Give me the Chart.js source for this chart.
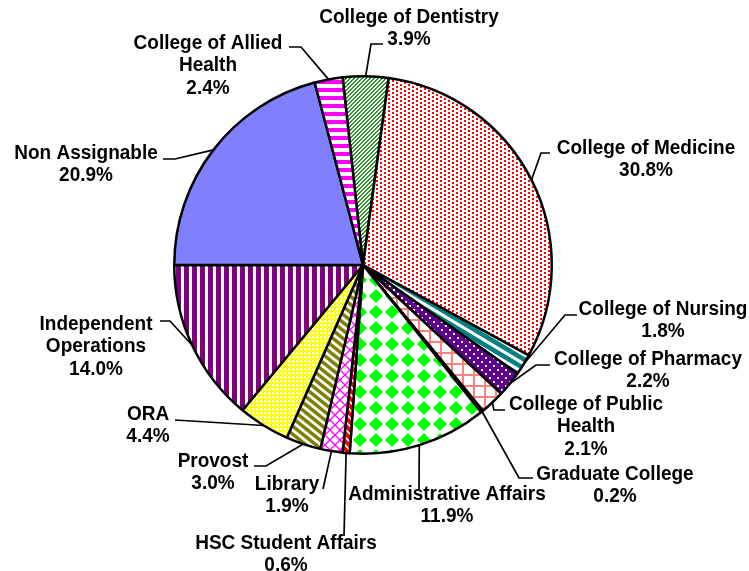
<!DOCTYPE html>
<html>
<head>
<meta charset="utf-8">
<script src="https://cdn.jsdelivr.net/npm/chart.js@4"></script>
<style>
  body { margin: 0; background: #fff; }
</style>
</head>
<body>
<canvas id="grafico-circular" width="749" height="571"></canvas>
<script>
// Budget share per unit, clockwise from the top
const categorias = [
    "College of Dentistry", "College of Medicine", "College of Nursing",
    "College of Pharmacy", "College of Public Health", "Graduate College",
    "Administrative Affairs", "HSC Student Affairs", "Library", "Provost",
    "ORA", "Independent Operations", "Non Assignable", "College of Allied Health"
];
const porcentajes = [3.9, 30.8, 1.8, 2.2, 2.1, 0.2, 11.9, 0.6, 1.9, 3.0, 4.4, 14.0, 20.9, 2.4];

// Where each label sits and how its leader line bends (same order as categorias)
const etiquetas = [
    { x: 409, y: 17,  corte: 0, ruta: [[371, 44], [383, 44]] },
    { x: 646, y: 148, corte: 0, ruta: [[541, 153], [550, 153]] },
    { x: 663, y: 309, corte: 0, ruta: [[565, 315], [577, 315]] },
    { x: 648, y: 359, corte: 0, ruta: [[536, 365], [550, 365]] },
    { x: 586, y: 404, corte: 3, ruta: [[494, 410], [505, 410]] },
    { x: 615, y: 474, corte: 0, ruta: [[519, 478], [533, 478]] },
    { x: 447, y: 494, corte: 0, ruta: [[419, 489]] },
    { x: 286, y: 543, corte: 0, ruta: [[344, 536]] },
    { x: 287, y: 484, corte: 0, ruta: [[323, 489]] },
    { x: 213, y: 461, corte: 0, ruta: [[266, 466], [254, 466]] },
    { x: 148, y: 414, corte: 0, ruta: [[175, 420]] },
    { x: 96,  y: 324, corte: 1, ruta: [[170, 321], [160, 321]] },
    { x: 86,  y: 153, corte: 0, ruta: [[175, 159], [163, 159]] },
    { x: 208, y: 43,  corte: 3, ruta: [[301, 47], [289, 47]] }
];

function mosaico(w, h, pintar) {
    const c = document.createElement("canvas");
    c.width = w;
    c.height = h;
    const g = c.getContext("2d");
    g.fillStyle = "#fff";
    g.fillRect(0, 0, w, h);
    pintar(g, w, h);
    return g.createPattern(c, "repeat");
}

// slanted stripes: direction (w, h), h < 0 goes up to the right
function rayas(color, w, h, grosor) {
    const alto = Math.abs(h);
    return mosaico(w, alto, function (g) {
        g.strokeStyle = color;
        g.lineWidth = grosor;
        for (let k = -1; k <= 1; k++) {
            const off = k * alto;
            g.beginPath();
            g.moveTo(-w, -h + off);
            g.lineTo(2 * w, 2 * h + off);
            g.stroke();
        }
    });
}

function puntos(color, fondo, w, h, lista) {
    return mosaico(w, h, function (g) {
        g.fillStyle = fondo;
        g.fillRect(0, 0, w, h);
        g.fillStyle = color;
        lista.forEach(p => g.fillRect(p[0], p[1], 2, 2));
    });
}

const rellenos = [
    // thin "/" stripes, two pixels per row
    mosaico(4, 4, function (g) {
        g.fillStyle = "#2f962f";
        for (let y = 0; y < 4; y++) {
            g.fillRect((3 - y + 4) % 4, y, 1, 1);
            g.fillRect((4 - y) % 4, y, 1, 1);
        }
    }),
    puntos("#ff0000", "#fff", 8, 4, [[0, 0], [4, 2]]),
    rayas("#008080", 15, 9, 4.6),
    puntos("#fff", "#600090", 8, 8, [[1, 1], [5, 5]]),
    mosaico(11, 11, function (g) {
        g.fillStyle = "#ff8080";
        g.fillRect(0, 0, 11, 2);
        g.fillRect(0, 0, 2, 11);
    }),
    "#000000",
    mosaico(16, 16, function (g) {
        g.fillStyle = "#00ff00";
        g.beginPath();
        g.moveTo(8, 1);
        g.lineTo(15, 8);
        g.lineTo(8, 15);
        g.lineTo(1, 8);
        g.closePath();
        g.fill();
    }),
    rayas("#ff0000", 8, 8, 4),
    mosaico(10, 10, function (g) {
        g.strokeStyle = "#ff00ff";
        g.lineWidth = 1.3;
        g.beginPath();
        g.moveTo(0, 0); g.lineTo(10, 10);
        g.moveTo(10, 0); g.lineTo(0, 10);
        g.stroke();
    }),
    rayas("#808000", 10, 8, 3.4),
    mosaico(4, 4, function (g) {
        g.fillStyle = "#ffff00";
        g.fillRect(0, 0, 4, 4);
        g.fillStyle = "#fff";
        g.fillRect(0, 0, 2, 2);
        g.fillRect(2, 2, 1, 1);
    }),
    mosaico(8, 1, function (g) {
        g.fillStyle = "#800080";
        g.fillRect(0, 0, 5, 1);
    }),
    "#8080ff",
    mosaico(8, 8, function (g) {
        g.fillStyle = "#ff00ff";
        g.fillRect(0, 0, 8, 4);
    })
];

// labels with leader lines, drawn after the pie
const etiquetasPlugin = {
    id: "etiquetas",
    afterDraw(chart) {
        const ctx = chart.ctx;
        const meta = chart.getDatasetMeta(0);
        ctx.save();
        ctx.strokeStyle = "#000";
        ctx.lineWidth = 1.7;
        ctx.fillStyle = "#000";
        ctx.font = "bold 19px 'Liberation Sans', Arial, sans-serif";
        ctx.textAlign = "center";
        ctx.textBaseline = "middle";
        meta.data.forEach(function (arco, i) {
            const p = arco.getProps(["x", "y", "startAngle", "endAngle", "outerRadius"], true);
            const medio = (p.startAngle + p.endAngle) / 2;
            const et = etiquetas[i];
            ctx.beginPath();
            ctx.moveTo(p.x + Math.cos(medio) * p.outerRadius, p.y + Math.sin(medio) * p.outerRadius);
            et.ruta.forEach(pt => ctx.lineTo(pt[0], pt[1]));
            ctx.stroke();

            const palabras = categorias[i].split(" ");
            const lineas = et.corte > 0
                ? [palabras.slice(0, et.corte).join(" "), palabras.slice(et.corte).join(" ")]
                : [categorias[i]];
            lineas.push(porcentajes[i].toFixed(1) + "%");
            lineas.forEach(function (t, j) {
                // text is a touch taller than the font's natural shape
                ctx.save();
                ctx.translate(et.x, et.y + j * 22.5);
                ctx.scale(1, 1.08);
                ctx.fillText(t, 0, 0);
                ctx.restore();
            });
        });
        ctx.restore();
    }
};

const ctxPie = document.getElementById("grafico-circular").getContext("2d");
new Chart(ctxPie, {
    type: "pie",
    data: {
        labels: categorias,
        datasets: [{
            data: porcentajes,
            backgroundColor: rellenos,
            borderColor: "#000",
            borderWidth: 2.5
        }]
    },
    options: {
        responsive: false,
        animation: false,
        rotation: -6.2,
        layout: { padding: { left: 173, right: 196, top: 75, bottom: 116 } },
        plugins: {
            legend: { display: false },
            tooltip: { enabled: false }
        }
    },
    plugins: [etiquetasPlugin]
});
</script>
</body>
</html>
